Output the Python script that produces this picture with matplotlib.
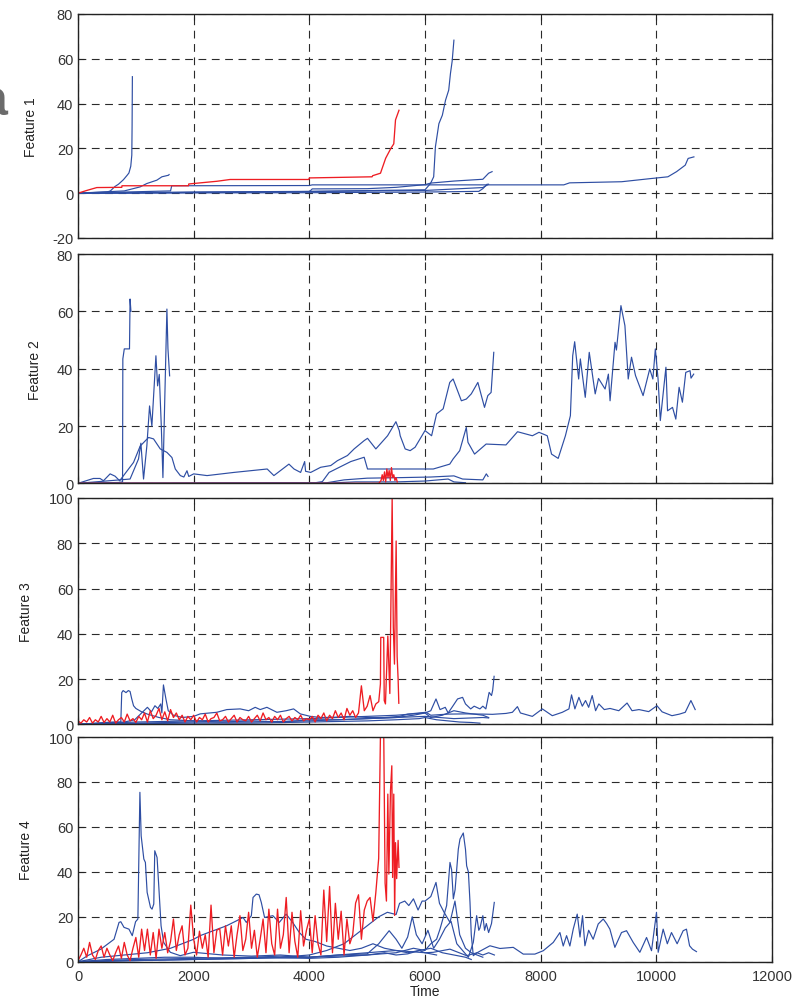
import numpy as np
import matplotlib
matplotlib.use('Agg')
import matplotlib.pyplot as plt

plt.rcParams['font.family'] = ['Liberation Sans', 'DejaVu Sans']
plt.rcParams['axes.unicode_minus'] = False

BLUE = '#2e4ea3'
RED = '#ee1d23'

# ---------------- Feature 1 ----------------
f1_a_t = [0, 300, 500, 560, 640, 700, 785, 850, 880, 912, 930, 935, 940]
f1_a_v = [0, 0.3, 0.5, 1, 3, 4, 6, 8, 9, 12, 17, 30, 52]
f1_b_t = [0, 400, 800, 1074, 1190, 1363, 1450, 1565, 1575]
f1_b_v = [0, 0.5, 1, 2.8, 4.3, 5.8, 7.3, 8.0, 8.3]
f1_c_t = [0, 2000, 4000, 6000, 6095, 6150, 6180, 6240, 6300, 6355, 6410, 6440, 6470, 6500]
f1_c_v = [0, 0.5, 0.8, 1.5, 4.3, 7.3, 20.7, 31, 34.8, 41.5, 46, 53.4, 59, 68.3]
f1_d_t = [0, 800, 1600, 1620, 4000, 4050, 8400, 8500, 9400, 9900, 10200, 10350, 10500, 10550, 10650]
f1_d_v = [0, 0.5, 1, 3.3, 3.4, 3.7, 3.7, 4.6, 5.1, 6.5, 7.3, 9.6, 12.5, 15.5, 16.2]
f1_e_t = [0, 2000, 4000, 4050, 5000, 5500, 6000, 6100, 6500, 7000, 7100, 7160]
f1_e_v = [0, 0.3, 0.6, 1.9, 2.0, 2.6, 3.8, 4.5, 5.4, 6.2, 8.9, 9.6]
f1_f_t = [0, 4000, 6000, 6930, 7000, 7075]
f1_f_v = [0, 0.2, 0.5, 0.8, 2, 4]
f1_g_t = [0, 3000, 6000, 7000, 7100]
f1_g_v = [0, 0.5, 1.2, 2.5, 4]
f1_red_t = [0, 150, 325, 757, 760, 1910, 1915, 2400, 2630, 3990, 4000, 5085, 5095, 5230, 5320, 5410, 5460, 5490, 5550]
f1_red_v = [0, 1.2, 2.5, 2.6, 3.3, 3.3, 4.1, 5.3, 6.1, 6.1, 6.8, 7.3, 7.8, 8.9, 15.6, 20, 22, 32.7, 37]

# ---------------- Feature 2 ----------------
f2_a_t = [0, 700, 770, 775, 800, 890, 900, 915]
f2_a_v = [0, 0.3, 0.5, 43.4, 46.9, 46.9, 64.3, 60]
f2_b_t = [0, 900, 1046, 1087, 1133, 1190, 1237, 1277, 1347, 1376, 1405, 1440, 1468, 1537, 1555, 1584]
f2_b_v = [0, 1.5, 8.5, 14, 1.5, 13, 27, 20, 44.5, 34, 38, 20, 2, 60.8, 47, 37.5]
f2_c_t = [0, 266, 380, 440, 555, 640, 720, 960, 1075, 1220, 1306, 1422, 1537, 1624, 1682,
          1769, 1830, 1884, 1915, 2000, 2231, 2693, 3271, 3387, 3647, 3735, 3849, 3919, 3935,
          4023, 4196, 4370, 4485, 4659, 4774, 4948, 5006, 5150, 5353, 5497, 5555, 5571, 5657,
          5743, 5829, 6000, 6114, 6200, 6314, 6428, 6486, 6629, 6714, 6800, 6914, 7029, 7086,
          7143, 7189]
f2_c_v = [0, 1.7, 1.7, 0.9, 3.3, 2.5, 0.9, 7.3, 13, 16, 15.5, 12, 10.8, 9, 5,
          2.7, 2.2, 4.4, 2.4, 3.3, 2.7, 3.8, 5, 2.7, 6.7, 5, 3.8, 7.6, 4.2,
          3.8, 5.6, 6.2, 7.9, 9.7, 12, 14.9, 15.7, 12, 16.6, 21.5, 18.4, 16.6, 12,
          11.4, 12.6, 18.4, 16.6, 24.2, 26, 35.2, 36.4, 28.8, 29.4, 31.2, 35.2, 26.5, 30.6,
          31.7, 45.7]
f2_d_t = [0, 4100, 4225, 4341, 4717, 4948, 5006, 5583, 6143, 6428, 6486, 6600, 6714, 6743,
          6857, 7057, 7400, 7600, 7857, 7971, 8114, 8188, 8303, 8428, 8514, 8554, 8588, 8657,
          8686, 8771, 8840, 8943, 9000, 9114, 9171, 9200, 9286, 9310, 9388, 9457, 9514, 9571,
          9640, 9771, 9886, 9940, 9983, 10030, 10069, 10166, 10194, 10280, 10337, 10394, 10451,
          10509, 10583, 10600, 10646]
f2_d_v = [0, 0.2, 0.6, 3.8, 7.6, 9.1, 5, 5, 5, 6.7, 8.5, 11.4, 19.5, 14.3,
          10.2, 13.7, 13.4, 18, 16.6, 17.8, 16.6, 10.2, 8.7, 16.6, 23.6, 44.5, 49.4, 36.4,
          43.4, 30, 45.7, 31.2, 36.6, 32.9, 38.1, 28.8, 49.2, 46.5, 62, 55, 36.4, 44,
          37.6, 30.6, 39.9, 36.4, 46.9, 36.4, 21.9, 40.5, 25.3, 26.5, 22.4, 33.5, 28.3,
          38.7, 39.3, 36.7, 38.1]
f2_e_t = [0, 4300, 4600, 5000, 5600, 6100, 6500, 6650, 7000, 7060, 7090]
f2_e_v = [0, 0.2, 1.2, 1.8, 2.0, 2.2, 2.6, 1.5, 1.2, 3.3, 2.4]
f2_f_t = [0, 4200, 4800, 5500, 6000, 6400, 6500, 6700]
f2_f_v = [0, 0, 0.5, 0.5, 0.8, 1.5, 0.5, 0.2]
f2_red_t = [0, 5200, 5240, 5260, 5280, 5300, 5320, 5340, 5360, 5380, 5400, 5420, 5440, 5460, 5480, 5500, 5520]
f2_red_v = [0, 0, 1, 3, 1, 4, 0.5, 5, 2, 4.5, 1, 5.5, 2, 3, 1, 2, 0.5]

# ---------------- Feature 3 ----------------
f3_a_t = [0, 300, 600, 740, 756, 780, 830, 870, 900, 929, 960, 1000, 1100, 1200, 1400, 1600,
          2000, 2500, 3000, 3500, 4000, 4500, 5000, 5500, 6000, 6500, 7000, 7100]
f3_a_v = [0, 0.5, 1, 1, 14, 14.9, 14, 14.9, 14.5, 11.2, 8.2, 7, 5.5, 4.5, 3, 2,
          1.5, 1, 1.5, 1, 2, 2, 2.5, 3, 3.5, 2.5, 3, 2.8]
f3_b_t = [0, 400, 800, 980, 1100, 1200, 1270, 1330, 1380, 1430, 1450, 1477, 1520, 1560, 1650,
          1800, 2000, 2112, 2400, 2573, 2804, 2950, 3064, 3150, 3266, 3439, 3600, 3728, 3843,
          4016, 4200, 4420, 4700, 5000, 5300, 5557, 5700, 6017, 6100, 6400, 6707, 7000, 7167,
          7400, 7511, 7598, 7650, 7856, 8029, 8201, 8374, 8489, 8534, 8592, 8661, 8720, 8776,
          8830, 8891, 8950, 9006, 9100, 9200, 9351, 9494, 9580, 9700, 9868, 10011, 10100,
          10270, 10400, 10500, 10598, 10672]
f3_b_v = [0, 0.5, 1, 2, 5, 7.5, 5.5, 8.2, 7, 9, 5, 17.4, 11.2, 6, 4,
          3, 3.5, 4.6, 5.3, 6.5, 6.8, 6, 7.5, 6.5, 7.5, 5.3, 6, 6.8, 4.6,
          3.5, 3, 3.1, 3.5, 3, 3, 3.5, 4.5, 5.3, 4, 4.5, 4.6, 4.5, 4.4,
          4.8, 5.3, 7.8, 5, 3.5, 6.8, 3.8, 5.3, 6.8, 13, 6.8, 11.9, 8, 10.5,
          7.5, 12.7, 6, 9, 6.5, 7, 6, 9.4, 6, 6.5, 5.6, 8.2, 5.5,
          3.8, 4.5, 5.3, 10.5, 6.5]
f3_c_t = [0, 1000, 2000, 3000, 4000, 4500, 5000, 5500, 5800, 6000, 6100, 6190, 6260, 6350,
          6400, 6480, 6563, 6650, 6700, 6790, 6850, 6950, 7000, 7052, 7109, 7150, 7170, 7195]
f3_c_v = [0, 0.5, 1, 1, 1.5, 2, 2.5, 3, 4, 5, 6, 11.2, 6.5, 7.5,
          5, 8, 11.2, 11.9, 9, 6.8, 8, 6.8, 8, 6.8, 14.1, 12.7, 15, 21.2]
f3_d_t = [0, 1000, 2000, 3000, 4000, 5000, 5500, 5900, 6000, 6200, 6400, 6600, 6800, 6950]
f3_d_v = [0, 0.3, 0.5, 0.5, 1, 1.5, 2, 2.5, 3, 2, 1.5, 1, 0.8, 0.5]
f3_e_t = [0, 1000, 2000, 3000, 4000, 4500, 5000, 5500, 6000, 6100, 6300, 6500, 6700, 7000, 7100]
f3_e_v = [0, 1, 1.5, 2, 2.5, 3, 3.5, 4, 5, 3, 4, 6, 5, 4, 3]

# red run, sampled every 50 up to 5150, then the burst
f3_red_step = [1.5, 0.5, 2, 1, 3, 0.5, 2, 1, 3.5, 0.8, 2.5, 1, 4, 0.5, 2, 3, 1, 4.5, 1.5, 2.5,
               0.8, 3.5, 2, 5, 1, 6, 2.5, 4, 7, 2, 5.5, 1.5, 6.5, 3, 5, 2, 4, 1, 3.5, 2,
               4, 1, 3, 2, 4.5, 1, 2.5, 3, 5, 1.5, 2, 3.5, 1, 2.5, 4, 1, 3, 2, 1.5, 3.5,
               1, 2.5, 4, 1.5, 5, 2, 3, 1, 3.5, 2, 4, 1, 2.5, 3.5, 1.5, 3, 2, 4, 1.5, 2.5,
               2, 3.5, 1, 4, 2.5, 5, 1.5, 4, 2.5, 6, 3, 5, 2, 7, 4, 6, 3, 5, 17, 6,
               8, 12.7, 6, 9]
f3_red_burst_t = [5200, 5229, 5235, 5286, 5295, 5316, 5357, 5392, 5432, 5452, 5472, 5501, 5518, 5535, 5547]
f3_red_burst_v = [10, 17.8, 38.4, 38.4, 10.5, 9, 39, 13.6, 100, 42.9, 26.6, 81, 30, 20, 9.3]

# ---------------- Feature 4 ----------------
f4_a_t = [0, 166, 395, 623, 709, 740, 795, 881, 938, 995, 1035, 1070, 1092, 1138, 1165, 1195,
          1253, 1280, 1310, 1327, 1367, 1396, 1436, 1481, 1596, 1767, 1996, 2500, 3000, 3500,
          4000, 4500, 5000, 5500, 6000, 6200]
f4_a_v = [0, 2.7, 5.6, 10, 17.5, 17.8, 15.3, 14.5, 11.6, 17.8, 19, 75.4, 56, 45.7, 44.2, 30.9,
          24.2, 23.4, 25.7, 49.4, 46.4, 33.8, 16, 8.6, 4.2, 2.7, 4.2, 3, 2.5, 3,
          2, 3, 4, 5, 4, 3]
f4_b_t = [0, 400, 800, 1200, 1600, 1900, 2000, 2111, 2339, 2568, 2740, 2854, 2910, 2997, 3026,
          3083, 3130, 3169, 3226, 3369, 3480, 3598, 3712, 3827, 3941, 4100, 4300, 4500, 4700,
          4900, 5100, 5300, 5500, 5700, 5900, 6100, 6300, 6500, 6700, 6800]
f4_b_v = [0, 2, 3, 4, 6, 9, 10, 11.6, 13.8, 16, 18.2, 19.7, 17.5, 20.5, 28.6,
          30.1, 29.8, 26.4, 19.7, 20.5, 17.5, 21.2, 17.5, 13, 10, 9, 7, 6, 5,
          6, 8, 6, 5, 4, 5, 6, 4, 3, 2, 1]
f4_c_t = [0, 500, 1000, 1500, 2000, 2500, 3000, 3500, 4000, 4500, 5000, 5300, 5500, 5700, 5900,
          6000, 6144, 6432, 6720, 6900, 7123, 7296, 7526, 7699, 7900, 8045, 8218, 8333, 8390,
          8448, 8505, 8563, 8632, 8680, 8724, 8765, 8830, 8908, 8995, 9082, 9140, 9197, 9283,
          9398, 9485, 9600, 9715, 9831, 9917, 10003, 10032, 10118, 10190, 10262, 10360, 10464,
          10521, 10575, 10625, 10694]
f4_c_v = [0, 1, 1.5, 2, 2, 1.5, 2, 2.5, 2, 2.5, 3, 4, 3, 3.5, 5,
          4, 4.2, 5.6, 2.7, 4, 7.1, 5.9, 6.4, 3.4, 3.4, 4.9, 8.6, 13, 7,
          11.6, 7, 14.5, 21.2, 11, 20.5, 7.1, 14, 10, 16.8, 19, 17, 14.5, 6.4,
          13, 13.8, 8.6, 4.2, 10.8, 4.9, 22, 4.2, 14.5, 8, 13, 8, 13.8,
          14.5, 7.1, 5.6, 4.5]
f4_d_t = [0, 1000, 2000, 3000, 4000, 4500, 5000, 5500, 5800, 6000, 6100, 6200, 6259, 6374,
          6432, 6460, 6490, 6520, 6576, 6605, 6662, 6700, 6720, 6750, 6778, 6800, 6835, 6900,
          7000, 7100, 7200]
f4_d_v = [0, 1, 1.5, 2, 1.5, 2, 3, 4, 6, 5, 8, 10, 14.5, 25,
          44.2, 41, 28, 32, 50.1, 54.6, 57.3, 50, 42.7, 40, 26.4, 12, 2.7, 4,
          3, 4, 3]
f4_e_t = [0, 1000, 2000, 3000, 3500, 4000, 4300, 4600, 4800, 5000, 5100, 5200, 5350, 5500,
          5560, 5650, 5720, 5800, 5880, 5950, 6000, 6100, 6190, 6250, 6330, 6432, 6518, 6600,
          6700, 6800, 6900, 7000]
f4_e_v = [0, 0.5, 1, 1.5, 2, 3, 5, 8, 12, 16, 18, 20, 22, 21,
          26, 27, 25, 28, 23, 27, 27, 29, 35.3, 26, 22, 17.5, 27, 12,
          6, 4, 3, 2]
f4_f_t = [0, 1000, 2000, 3000, 4000, 4500, 5000, 5200, 5380, 5500, 5600, 5700, 5780, 5850,
          5950, 6050, 6150, 6250, 6350, 6450, 6550, 6650, 6750, 6835, 6893, 6930, 6950, 7000,
          7030, 7060, 7100, 7150, 7198]
f4_f_v = [0, 0.5, 1, 1.5, 2, 3, 3.5, 8, 13.8, 10, 6, 11, 20, 12,
          8, 14, 6, 10, 15, 18, 8, 5, 2, 8.6, 20.5, 14, 15, 20.5,
          14, 17, 13, 17, 26.4]

f4_red_step = [0.5, 3, 6, 2, 8.6, 3, 1, 5, 7, 2, 6, 3, 0.5, 4, 7, 1.5, 8.6, 3, 0.5, 6,
               10.8, 2, 14.5, 5, 14.5, 3, 13, 1.5, 14.5, 6, 13, 4, 9, 19, 5, 12, 16, 3, 6, 25.2,
               10, 3, 13.6, 6, 12, 2, 25.2, 4, 14, 14.8, 3, 16, 7, 16, 2, 12, 20.5, 5, 10, 22,
               6, 14, 2, 10, 19, 4, 23.4, 8, 3, 23.4, 6, 12, 28.6, 4, 22, 9, 2, 22.7, 7, 14,
               19, 4, 20.5, 8, 3, 31.9, 9, 33.5, 4, 26, 10, 22.5, 3, 19, 8, 12, 26.1, 29.8, 10, 23,
               27, 28.6, 18, 30.9]
f4_red_burst_t = [5199, 5229, 5258, 5287, 5310, 5333, 5357, 5375, 5403, 5426, 5440, 5460, 5475, 5490, 5510, 5535, 5550]
f4_red_burst_v = [46, 100, 130, 100, 35, 27, 74.6, 39, 76, 87.2, 37.5, 74.6, 20.6, 53, 37, 54, 42]

time_ticks = [0, 2000, 4000, 6000, 8000, 10000, 12000]

fig = plt.figure(figsize=(8.06, 10.04), dpi=100)

boxes = [[0.0968, 0.762, 0.861, 0.2231],
         [0.0968, 0.5176, 0.861, 0.2284],
         [0.0968, 0.2776, 0.861, 0.2254],
         [0.0968, 0.0411, 0.861, 0.2238]]
ylims = [(-20, 80), (0, 80), (0, 100), (0, 100)]
names = ['Feature 1', 'Feature 2', 'Feature 3', 'Feature 4']
label_x = [-0.058, -0.052, -0.065, -0.065]

blue_sets = [
    [(f1_a_t, f1_a_v), (f1_b_t, f1_b_v), (f1_c_t, f1_c_v), (f1_d_t, f1_d_v),
     (f1_e_t, f1_e_v), (f1_f_t, f1_f_v), (f1_g_t, f1_g_v)],
    [(f2_a_t, f2_a_v), (f2_b_t, f2_b_v), (f2_c_t, f2_c_v), (f2_d_t, f2_d_v),
     (f2_e_t, f2_e_v), (f2_f_t, f2_f_v)],
    [(f3_a_t, f3_a_v), (f3_b_t, f3_b_v), (f3_c_t, f3_c_v), (f3_d_t, f3_d_v),
     (f3_e_t, f3_e_v)],
    [(f4_a_t, f4_a_v), (f4_b_t, f4_b_v), (f4_c_t, f4_c_v), (f4_d_t, f4_d_v),
     (f4_e_t, f4_e_v), (f4_f_t, f4_f_v)],
]

step_t3 = list(np.arange(len(f3_red_step)) * 50)
step_t4 = list(np.arange(len(f4_red_step)) * 50)
red_sets = [
    (f1_red_t, f1_red_v),
    (f2_red_t, f2_red_v),
    (step_t3 + f3_red_burst_t, f3_red_step + f3_red_burst_v),
    (step_t4 + f4_red_burst_t, f4_red_step + f4_red_burst_v),
]

for i in range(4):
    ax = fig.add_axes(boxes[i])
    for t, v in blue_sets[i]:
        ax.plot(t, v, color=BLUE, lw=0.85)
    ax.plot(red_sets[i][0], red_sets[i][1], color=RED, lw=0.95)

    ax.set_xlim(0, 12000)
    ax.set_ylim(*ylims[i])
    ax.set_xticks(time_ticks)
    ax.set_yticks(np.arange(ylims[i][0], ylims[i][1] + 1, 20))
    ax.grid(True, color='#2a2a2a', linestyle=(0, (7, 5)), linewidth=0.8)
    ax.tick_params(direction='in', length=4, width=0.8, top=True, right=True,
                   labelsize=10.5, labelcolor='#333333', colors='#222222')
    for s in ax.spines.values():
        s.set_linewidth(1.0)
        s.set_color('#222222')
    ax.set_ylabel(names[i], fontsize=10, color='#222222')
    ax.yaxis.set_label_coords(label_x[i], 0.5)
    if i < 3:
        ax.set_xticklabels([])
    else:
        ax.set_xlabel('Time', fontsize=10, color='#222222', labelpad=1)
        ax.tick_params(axis='x', pad=5)

# panel letter, partly outside the left edge
fig.text(7 / 806, 1 - 115 / 1004, 'a', ha='right', va='baseline', fontsize=36,
         fontweight='bold', color='#6b6b6b')

plt.savefig('out.png', dpi=100)
